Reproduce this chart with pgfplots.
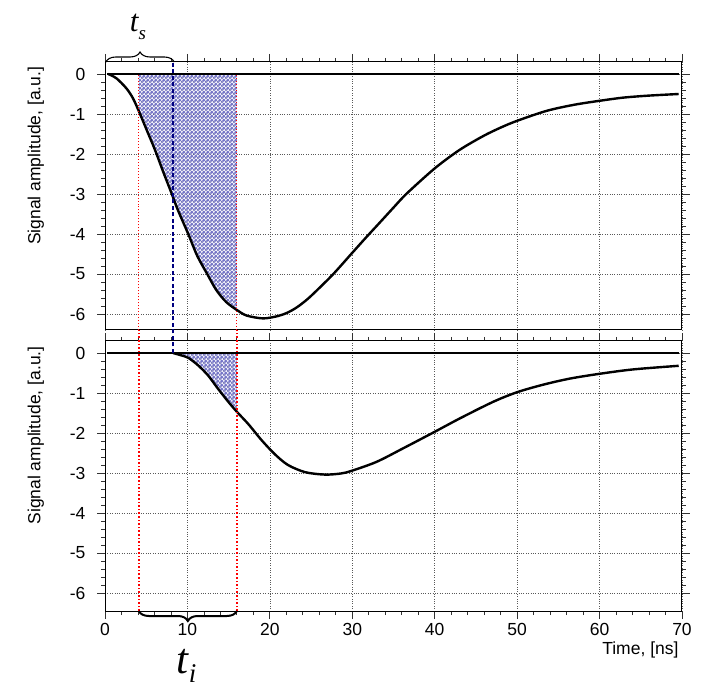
\documentclass[border=0pt]{standalone}
\usepackage{fontspec}
\setmainfont{Liberation Sans}
\newfontfamily\timesf{Liberation Serif}
\usepackage{pgfplots}
\pgfplotsset{compat=1.18}
\usetikzlibrary{patterns,decorations.pathreplacing}
\definecolor{navyb}{RGB}{0,0,128}
\definecolor{ringc}{RGB}{118,118,200}

\pgfdeclarepatterninherentlycolored{circx}{\pgfqpoint{0bp}{0bp}}{\pgfqpoint{4.2bp}{4.2bp}}{\pgfqpoint{4.2bp}{4.2bp}}{%
  \pgfsetfillcolor{white}%
  \pgfpathrectangle{\pgfpointorigin}{\pgfqpoint{4.2bp}{4.2bp}}\pgfusepath{fill}%
  \pgfsetstrokecolor{ringc}\pgfsetlinewidth{1.2bp}%
  \pgfpathcircle{\pgfqpoint{2.1bp}{2.1bp}}{1.2bp}\pgfusepath{stroke}%
  \pgfsetfillcolor{navyb}%
  \pgfpathrectangle{\pgfqpoint{0bp}{0bp}}{\pgfqpoint{0.6bp}{0.6bp}}%
  \pgfpathrectangle{\pgfqpoint{3.6bp}{0bp}}{\pgfqpoint{0.6bp}{0.6bp}}%
  \pgfpathrectangle{\pgfqpoint{0bp}{3.6bp}}{\pgfqpoint{0.6bp}{0.6bp}}%
  \pgfpathrectangle{\pgfqpoint{3.6bp}{3.6bp}}{\pgfqpoint{0.6bp}{0.6bp}}%
  \pgfusepath{fill}%
}

\pgfplotstableread{
x y
0.4 0
1.4 -0.11
2.6 -0.36
3.4 -0.61
4.15 -0.95
5.06 -1.40
6.07 -1.90
7.07 -2.45
8.09 -2.99
8.78 -3.37
10.1 -4.0
11.2 -4.55
12.4 -5.0
13.5 -5.4
14.7 -5.7
16.0 -5.9
17.2 -6.04
19.2 -6.11
21.0 -6.05
22.2 -5.96
23.3 -5.83
24.5 -5.64
25.7 -5.41
27.7 -5.0
30.0 -4.47
31.7 -4.08
33.4 -3.70
35.0 -3.34
36.6 -2.99
40.0 -2.36
43.0 -1.90
45.9 -1.55
48.0 -1.34
50.0 -1.17
53.6 -0.92
56.9 -0.77
60.0 -0.67
62.9 -0.59
66.0 -0.54
69.6 -0.50
}\topcurve

\pgfplotstableread{
x y
8.25 0
9.1 -0.05
10.1 -0.12
11.3 -0.31
12.5 -0.56
13.7 -0.89
14.96 -1.22
16.0 -1.47
17.4 -1.78
19.0 -2.18
20.6 -2.53
22.2 -2.80
24.3 -2.98
26.7 -3.04
28.7 -3.01
30.0 -2.94
32.96 -2.72
36.2 -2.38
40.0 -1.97
43.1 -1.63
47.1 -1.22
50.0 -0.98
53.2 -0.79
56.4 -0.64
60.0 -0.52
64.1 -0.41
69.6 -0.32
}\lowcurve

\pgfplotsset{
 myaxis/.style={
  scale only axis, width=577bp,
  xmin=0, xmax=70,
  xtick={0,10,...,70}, minor x tick num=4,
  ytick={-6,-5,-4,-3,-2,-1,0}, minor y tick num=4,
  tick align=outside,
  major tick length=8bp, minor tick length=4bp,
  grid=major, major grid style={dotted, black!65, line width=0.7bp},
  axis line style={line width=1bp},
  every tick/.style={black!80, line width=0.8bp},
  tick label style={font=\fontsize{17.5bp}{20bp}\selectfont},
  yticklabel style={xshift=-8bp},
  xticklabel style={yshift=-1bp},
  /pgf/number format/assume math mode=true,
  ylabel={Signal amplitude, [a.u.]},
  every axis y label/.style={at={(axis description cs:-0.12,0.65)}, rotate=90, anchor=center, font=\fontsize{17.5bp}{20bp}\selectfont},
  every axis x label/.style={font=\fontsize{17.5bp}{20bp}\selectfont},
  clip=false,
 }
}

\begin{document}
\begin{tikzpicture}
\path (0,0) rectangle (706bp,688bp);

% ---------- upper panel ----------
\begin{axis}[myaxis, at={(105bp,358bp)}, anchor=south west, height=268bp,
  ymin=-6.4, ymax=0.3, xtick pos=right, xticklabels={}]
 \addplot[draw=none, pattern=circx] coordinates {(4.1,0) (4.15,-0.95) (5.06,-1.40) (6.07,-1.90) (7.07,-2.45) (8.09,-2.99) (8.78,-3.37) (10.1,-4.0) (11.2,-4.55) (12.4,-5.0) (13.5,-5.4) (14.7,-5.7) (16.0,-5.9) (16.0,0)} -- cycle;
 \addplot[black, line width=2.4bp] coordinates {(0.3,0) (69.6,0)};
 \addplot[black, line width=2.4bp, smooth, tension=0.5] table[x=x,y=y] {\topcurve};
 \draw[decorate, decoration={brace, amplitude=10bp}, line width=1.1bp] (axis cs:0.1,0.3) -- (axis cs:8.4,0.3);
 \node[anchor=base west, inner sep=0pt, yshift=30bp] at (axis cs:3.0,0.3)
   {\timesf\itshape\fontsize{31bp}{31bp}\selectfont t\raisebox{-8bp}{\fontsize{19bp}{19bp}\selectfont s}};
\end{axis}

% ---------- lower panel ----------
\begin{axis}[myaxis, at={(105bp,77bp)}, anchor=south west, height=270bp,
  ymin=-6.45, ymax=0.3,
  xlabel={Time, [ns]},
  xlabel style={at={(axis description cs:1,-0.161)}, anchor=base east}]
 \addplot[draw=none, pattern=circx] coordinates {(8.25,0) (9.1,-0.05) (10.1,-0.12) (11.3,-0.31) (12.5,-0.56) (13.7,-0.89) (14.96,-1.22) (16.0,-1.47) (16.0,0)} -- cycle;
 \addplot[black, line width=1.3bp] coordinates {(0.3,0) (69.6,0)};
 \addplot[black, line width=2.4bp, smooth, tension=0.5] table[x=x,y=y] {\lowcurve};
 % timing markers
 \draw[red, dotted, line width=1.6bp] (axis cs:4.1,-6.45) -- (axis cs:4.1,0.57);
 \draw[red, dotted, line width=1bp] (axis cs:4.1,0.57) -- (axis cs:4.1,6.95);
 \draw[red, dotted, line width=1.6bp] (axis cs:16,-6.45) -- (axis cs:16,0.57);
 \draw[red, dotted, line width=1bp] (axis cs:16,0.57) -- (axis cs:16,6.95);
 \draw[navyb, line width=1.8bp, dash pattern=on 4bp off 2.5bp] (axis cs:8.25,0) -- (axis cs:8.25,7.3);
 \draw[decorate, decoration={brace, mirror, amplitude=10bp}, line width=2bp] (axis cs:4.1,-6.45) -- (axis cs:16,-6.45);
 \node[anchor=base west, inner sep=0pt, yshift=-62bp] at (axis cs:8.7,-6.45)
   {\timesf\itshape\fontsize{43bp}{43bp}\selectfont t\raisebox{-9bp}{\fontsize{27bp}{27bp}\selectfont i}};
\end{axis}
\end{tikzpicture}
\end{document}
